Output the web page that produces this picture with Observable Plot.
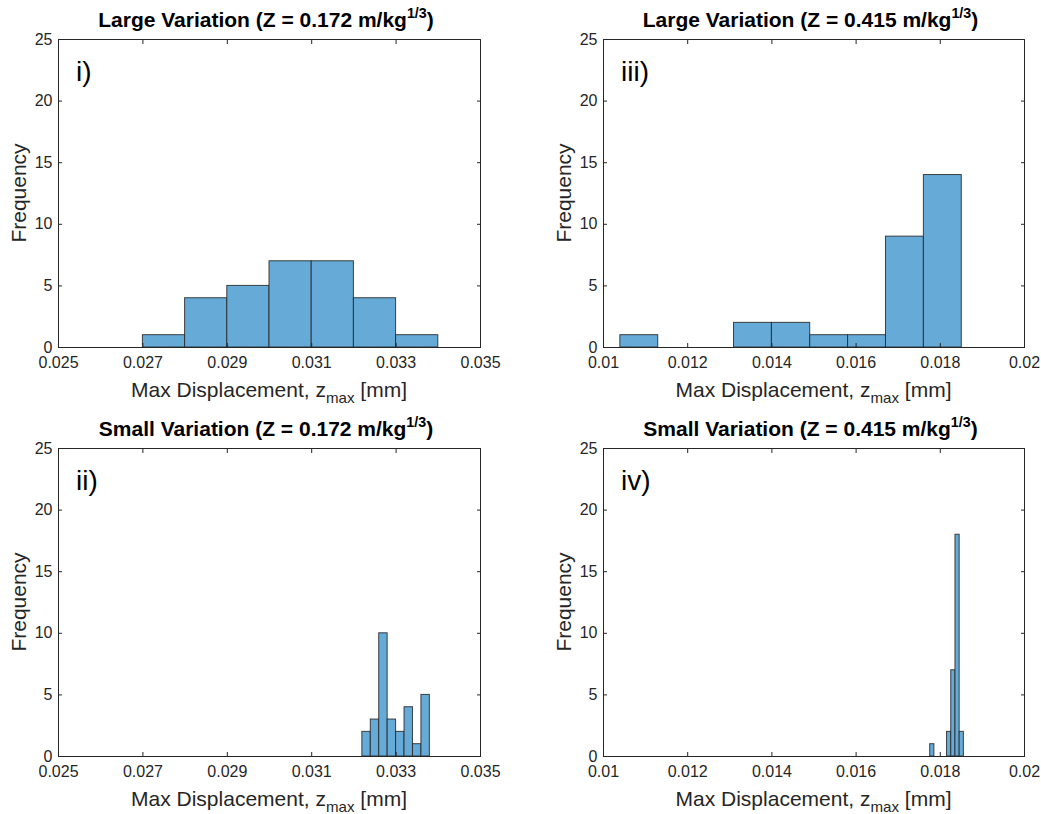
<!DOCTYPE html>
<html>
<head>
<meta charset="utf-8">
<script src="https://cdn.jsdelivr.net/npm/d3@7"></script>
<script src="https://cdn.jsdelivr.net/npm/@observablehq/plot@0.6"></script>
<style>
  body { margin: 0; background: #fff; overflow: hidden; font-family: "Liberation Sans", Arial, Helvetica, sans-serif; }
  #wrap { position: relative; width: 1041px; height: 814px; }
  .abs { position: absolute; white-space: nowrap; color: #262626; line-height: 1; }
  .title { font-weight: bold; font-size: 21px; color: #000; transform: translate(-50%, -50%); }
  .xlab { font-size: 21px; transform: translate(-50%, -50%); }
  .ylab { font-size: 21px; transform: translate(-50%, -50%) rotate(-90deg); }
  .plab { font-size: 28px; color: #000; transform: translate(0, -50%); }
  .sup { font-size: 0.68em; position: relative; top: -0.6em; }
  .sub { font-size: 0.72em; position: relative; top: 0.4em; }
  .plot { position: absolute; }
</style>
</head>
<body>
<div id="wrap"></div>
<script>
// ---- Data ----
const yTicks = [0, 5, 10, 15, 20, 25];
const xTicksLeft = [0.025, 0.027, 0.029, 0.031, 0.033, 0.035];
const xTicksRight = [0.01, 0.012, 0.014, 0.016, 0.018, 0.02];

// i) Large variation, Z = 0.172
const edgesI = [0.027, 0.028, 0.029, 0.030, 0.031, 0.032, 0.033, 0.034];
const countsI = [1, 4, 5, 7, 7, 4, 1];

// ii) Small variation, Z = 0.172
const edgesII = [0.0322, 0.0324, 0.0326, 0.0328, 0.0330, 0.0332, 0.0334, 0.0336, 0.0338];
const countsII = [2, 3, 10, 3, 2, 4, 1, 5];

// iii) Large variation, Z = 0.415
const edgesIII = [0.01040, 0.01130, 0.01220, 0.01310, 0.01400, 0.01491, 0.01581, 0.01671, 0.01761, 0.01851];
const countsIII = [1, 0, 0, 2, 2, 1, 1, 9, 14];

// iv) Small variation, Z = 0.415
const edgesIV = [0.01776, 0.01786, 0.01796, 0.01806, 0.01816, 0.01826, 0.01836, 0.01846, 0.01856];
const countsIV = [1, 0, 0, 0, 2, 7, 18, 2];

const panels = [
  {label: "i)", kind: "Large", z: "0.172", edges: edgesI, counts: countsI, xTicks: xTicksLeft, col: 0, row: 0},
  {label: "ii)", kind: "Small", z: "0.172", edges: edgesII, counts: countsII, xTicks: xTicksLeft, col: 0, row: 1},
  {label: "iii)", kind: "Large", z: "0.415", edges: edgesIII, counts: countsIII, xTicks: xTicksRight, col: 1, row: 0},
  {label: "iv)", kind: "Small", z: "0.415", edges: edgesIV, counts: countsIV, xTicks: xTicksRight, col: 1, row: 1}
];

const wrap = document.getElementById("wrap");
const INK = "#262626";
const FILL = "#66AAD7";

function addDiv(cls, html, x, y) {
  const d = document.createElement("div");
  d.className = "abs " + cls;
  d.innerHTML = html;
  d.style.left = x + "px";
  d.style.top = y + "px";
  wrap.appendChild(d);
}

for (const p of panels) {
  const left = p.col === 0 ? 0 : 545;
  const top = p.row === 0 ? 0 : 409;
  const width = p.col === 0 ? 500 : 496;
  const mL = 58, mR = p.col === 0 ? 20 : 17, mT = 39, mB = 33, height = 380;

  const bins = p.counts.map((c, i) => ({x0: p.edges[i], x1: p.edges[i + 1], count: c})).filter(d => d.count > 0);
  const xDomain = [p.xTicks[0], p.xTicks[p.xTicks.length - 1]];

  const chart = Plot.plot({
    width, height,
    marginLeft: mL, marginRight: mR, marginTop: mT, marginBottom: mB,
    style: {fontFamily: '"Liberation Sans", Arial, sans-serif', fontSize: "16px", color: INK, background: "transparent", overflow: "visible"},
    x: {type: "linear", domain: xDomain},
    y: {type: "linear", domain: [0, 25]},
    marks: [
      Plot.rectY(bins, {x1: "x0", x2: "x1", y: "count", fill: FILL, stroke: INK, strokeOpacity: 0.85, strokeWidth: 1}),
      Plot.frame({stroke: INK, strokeWidth: 1}),
      Plot.axisX(p.xTicks, {anchor: "bottom", tickSize: 0, tickPadding: 9, tickFormat: d => String(d), label: null}),
      Plot.axisX(p.xTicks, {anchor: "bottom", tickSize: -4, fill: "none", label: null}),
      Plot.axisX(p.xTicks, {anchor: "top", tickSize: -4, fill: "none", label: null}),
      Plot.axisY(yTicks, {anchor: "left", tickSize: 0, tickPadding: 6, tickFormat: d => String(d), label: null}),
      Plot.axisY(yTicks, {anchor: "left", tickSize: -4, fill: "none", label: null}),
      Plot.axisY(yTicks, {anchor: "right", tickSize: -4, fill: "none", label: null})
    ]
  });
  chart.classList.add("plot");
  chart.style.left = left + "px";
  chart.style.top = top + "px";
  wrap.appendChild(chart);

  const cx = left + mL + (width - mL - mR) / 2;
  const plotTop = top + mT, plotBottom = top + height - mB;
  addDiv("title", `${p.kind} Variation (Z = ${p.z} m/kg<span class="sup">1/3</span>)`, cx - 3, top + 19);
  addDiv("xlab", `Max Displacement, z<span class="sub">max</span> [mm]`, cx, plotBottom + 42);
  addDiv("ylab", "Frequency", left + 18, (plotTop + plotBottom) / 2);
  addDiv("plab", p.label, left + mL + 18, plotTop + 33);
}
</script>
</body>
</html>
